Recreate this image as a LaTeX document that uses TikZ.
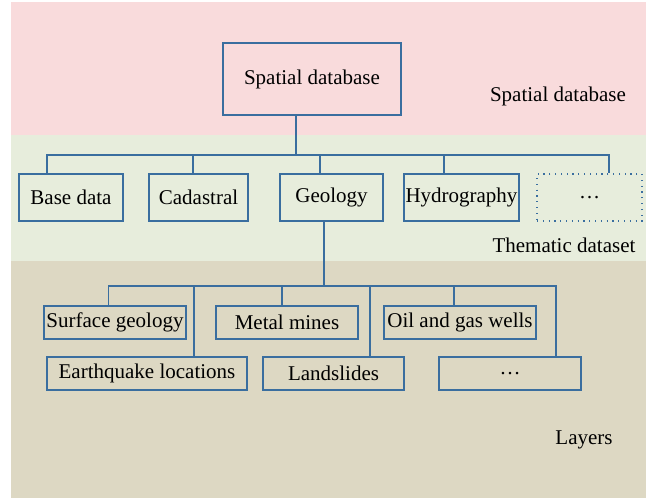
\documentclass[tikz,border=0pt]{standalone}
\usepackage{fontspec}
\setmainfont{Liberation Serif}
\definecolor{bgpink}{HTML}{F9DBDC}
\definecolor{bggreen}{HTML}{E7EDDC}
\definecolor{bgtan}{HTML}{DDD8C3}
\definecolor{lineblue}{HTML}{3A6E9F}
\begin{document}
\begin{tikzpicture}[x=1pt,y=1pt,
  box/.style={draw=lineblue,line width=1.1pt,inner sep=0pt,minimum height=#1,font=\fontsize{21}{25}\selectfont},
  lbl/.style={inner sep=0pt,font=\fontsize{21}{25}\selectfont},
  conn/.style={draw=lineblue,line width=1.1pt},
  dotbox/.style={draw=lineblue,line width=1.2pt,dash pattern=on 1.2pt off 4.6pt}]
\useasboundingbox (0,0) rectangle (651,-498);
\fill[bgpink] (11,-2) rectangle (646,-135);
\fill[bggreen] (11,-135) rectangle (646,-261);
\fill[bgtan] (11,-261) rectangle (646,-498);
% level labels
\node[lbl] (l1) at (558,-96) {Spatial database};
\node[lbl] (l2) at (564,-245) {Thematic dataset};
\node[lbl] (l3) at (584,-440) {Layers};
% top
\node[box=72pt,minimum width=178pt] (sd) at (312,-79) {Spatial database};
% tier 2
\node[box=47pt,minimum width=104pt] (base) at (71,-197.5) {Base data};
\node[box=47pt,minimum width=99pt] (cad) at (198.5,-197.5) {Cadastral};
\node[box=47pt,minimum width=103pt] (geo) at (331.5,-197.5) {Geology};
\node[box=47pt,minimum width=115pt] (hyd) at (461.5,-197.5) {Hydrography};
\node[box=47pt,minimum width=105pt,dotbox] (dts) at (589.5,-197.5) {\dots};
% tier 3
\node[box=33pt,minimum width=142pt] (surf) at (115,-322.5) {Surface geology};
\node[box=33pt,minimum width=142pt] (metal) at (287,-322.5) {Metal mines};
\node[box=33pt,minimum width=152pt] (oil) at (460,-322.5) {Oil and gas wells};
\node[box=33pt,minimum width=200pt] (eq) at (147,-373.5) {Earthquake locations};
\node[box=33pt,minimum width=141pt] (land) at (333.5,-373.5) {Landslides};
\node[box=33pt,minimum width=142pt] (dts2) at (510,-373.5) {\dots};
% bus coordinates
\coordinate (a0) at (296,-155);
\coordinate (a1) at (47,-155);
\coordinate (a2) at (193,-155);
\coordinate (a3) at (320,-155);
\coordinate (a4) at (444,-155);
\coordinate (a5) at (609,-155);
\coordinate (b0) at (324,-286);
\coordinate (b1) at (108.5,-286);
\coordinate (b2) at (194,-286);
\coordinate (b3) at (282,-286);
\coordinate (b4) at (370,-286);
\coordinate (b5) at (454,-286);
\coordinate (b6) at (556,-286);
% connectors
\draw[conn] (sd.south -| a0) -- (a0);
\draw[conn] (base.north -| a1) -- (a1) -- (a5) -- (dts.north -| a5);
\draw[conn] (cad.north -| a2) -- (a2);
\draw[conn] (geo.north -| a3) -- (a3);
\draw[conn] (hyd.north -| a4) -- (a4);
\draw[conn] (geo.south -| b0) -- (b0);
\draw[conn] (surf.north -| b1) -- (b1) -- (b6) -- (dts2.north -| b6);
\draw[conn] (eq.north -| b2) -- (b2);
\draw[conn] (metal.north -| b3) -- (b3);
\draw[conn] (land.north -| b4) -- (b4);
\draw[conn] (oil.north -| b5) -- (b5);
\end{tikzpicture}
\end{document}
